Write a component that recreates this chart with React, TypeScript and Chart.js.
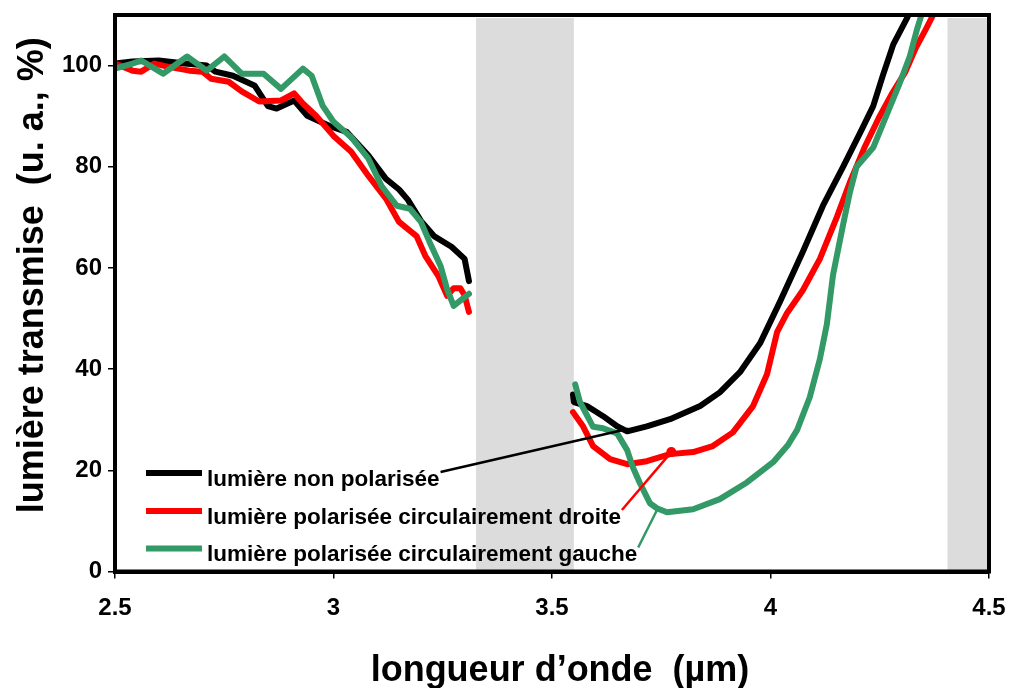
import React, { useEffect, useRef } from 'react';
import { Chart, registerables } from 'chart.js';

Chart.register(...registerables);

const FONT = "'Liberation Sans', Arial, Helvetica, sans-serif";

const X_TICKS = [2.5, 3, 3.5, 4, 4.5];
const X_TICK_LABELS = ['2.5', '3', '3.5', '4', '4.5'];
const Y_TICKS = [0, 20, 40, 60, 80, 100];
const X_TITLE = 'longueur d\u2019onde  (\u00b5m)';
const Y_TITLE = 'lumi\u00e8re transmise  (u. a., %)';

const SERIES_NAMES = [
  'lumi\u00e8re non polaris\u00e9e',
  'lumi\u00e8re polaris\u00e9e circulairement droite',
  'lumi\u00e8re polaris\u00e9e circulairement gauche',
];
const SERIES_COLORS = ['#000000', '#ff0000', '#339966'];

// non polarised — first window
const BLACK_X1 = [2.50, 2.54, 2.60, 2.66, 2.71, 2.73, 2.77, 2.82, 2.85, 2.87, 2.91, 2.94, 2.99, 3.03, 3.08, 3.12, 3.15, 3.17, 3.20, 3.23, 3.27, 3.30, 3.31];
const BLACK_Y1 = [100.4, 100.8, 101, 100.4, 100, 98.8, 98, 96, 92, 91.5, 93.1, 90.1, 88.1, 86.9, 82.2, 77.6, 75.5, 73.5, 69.3, 66.3, 64.2, 61.8, 57.4];
// non polarised — second window
const BLACK_X2 = [3.548, 3.55, 3.58, 3.617, 3.649, 3.672, 3.717, 3.77, 3.839, 3.884, 3.93, 3.976, 4.022, 4.074, 4.12, 4.166, 4.205, 4.235, 4.257, 4.281, 4.313, 4.331];
const BLACK_Y2 = [35.0, 33.5, 32.7, 30.7, 28.7, 27.7, 28.7, 30.1, 32.7, 35.4, 39.4, 45.1, 53.4, 63.2, 72.3, 80, 86.7, 92, 98, 104.2, 109.5, 113];

// circular right — first window
const RED_X1 = [2.50, 2.54, 2.56, 2.59, 2.62, 2.67, 2.70, 2.72, 2.76, 2.79, 2.83, 2.88, 2.91, 2.93, 2.96, 3.00, 3.04, 3.08, 3.12, 3.15, 3.19, 3.21, 3.24, 3.26, 3.275, 3.29, 3.30, 3.31];
const RED_Y1 = [100.4, 99, 98.8, 100.4, 99.8, 99, 98.8, 97.4, 96.8, 94.9, 92.9, 93.1, 94.5, 92.5, 90.1, 86.1, 83, 78.2, 73.7, 69.1, 66.3, 62.4, 58.4, 54.5, 56, 56, 54.6, 51.3];
// circular right — second window
const RED_X2 = [3.548, 3.571, 3.594, 3.633, 3.672, 3.717, 3.77, 3.823, 3.868, 3.914, 3.96, 3.992, 4.015, 4.038, 4.074, 4.113, 4.152, 4.181, 4.215, 4.248, 4.277, 4.309, 4.332, 4.355, 4.378];
const RED_Y2 = [31.5, 28.7, 24.8, 22.2, 21.2, 21.8, 23.2, 23.6, 24.8, 27.5, 32.7, 39, 47.3, 51.1, 55.6, 61.8, 70.1, 76.8, 83.8, 89.7, 94.3, 98.8, 103.4, 107.1, 111];

// circular left — first window
const GREEN_X1 = [2.50, 2.54, 2.56, 2.61, 2.665, 2.71, 2.75, 2.79, 2.84, 2.88, 2.93, 2.95, 2.975, 3.00, 3.04, 3.08, 3.11, 3.145, 3.175, 3.20, 3.22, 3.245, 3.26, 3.275, 3.295, 3.31];
const GREEN_Y1 = [99.4, 100.4, 101, 98.4, 101.8, 99, 101.8, 98.4, 98.4, 95.4, 99.4, 98, 92.1, 88.9, 85.9, 81.6, 76.2, 72.3, 71.7, 69.1, 65.1, 60.4, 55.8, 52.5, 53.9, 54.9];
// circular left — second window
const GREEN_X2 = [3.553, 3.564, 3.594, 3.617, 3.649, 3.672, 3.685, 3.701, 3.724, 3.74, 3.763, 3.823, 3.884, 3.946, 4.006, 4.04, 4.061, 4.09, 4.113, 4.129, 4.143, 4.166, 4.181, 4.197, 4.235, 4.267, 4.296, 4.319, 4.335, 4.349];
const GREEN_Y2 = [37.0, 33.5, 28.6, 28.3, 27.3, 24, 20.6, 17.5, 13.5, 12.5, 11.7, 12.3, 14.3, 17.6, 21.6, 25, 28, 34.5, 42, 48.9, 58.6, 68.5, 74.7, 80, 83.8, 90.5, 96.6, 101.9, 107.1, 111];

const GAP_X = 3.43;

// shaded absorption windows (µm)
const BAND_STARTS = [3.326, 4.405];
const BAND_ENDS = [3.55, 4.5];

// where each legend leader line points on its curve (µm, %)
const LEADER_X = [3.675, 3.773, 3.74];
const LEADER_Y = [28.2, 23.6, 12.1];

function toPoints(xs: number[], ys: number[]) {
  return xs.map((x, i) => ({ x, y: ys[i] }));
}

function buildSeries(x1: number[], y1: number[], x2: number[], y2: number[]) {
  return [...toPoints(x1, y1), { x: GAP_X, y: null }, ...toPoints(x2, y2)];
}

const bandsPlugin = {
  id: 'bands',
  beforeDraw(chart: any) {
    const { ctx, chartArea, scales } = chart;
    ctx.save();
    ctx.fillStyle = '#dcdcdc';
    BAND_STARTS.forEach((s, i) => {
      const x0 = scales.x.getPixelForValue(s);
      const x1 = scales.x.getPixelForValue(BAND_ENDS[i]);
      ctx.fillRect(x0, chartArea.top + 3, x1 - x0, chartArea.bottom - chartArea.top - 3);
    });
    ctx.restore();
  },
};

const decorPlugin = {
  id: 'decor',
  afterDatasetsDraw(chart: any) {
    const { ctx, chartArea, scales } = chart;
    ctx.save();
    // frame
    ctx.strokeStyle = '#000';
    ctx.lineWidth = 4;
    ctx.strokeRect(chartArea.left, chartArea.top, chartArea.right - chartArea.left, chartArea.bottom - chartArea.top);

    // legend
    const rowOffsets = [-98.5, -60.5, -23];
    ctx.font = `bold 22.5px ${FONT}`;
    ctx.textAlign = 'left';
    ctx.textBaseline = 'alphabetic';
    SERIES_NAMES.forEach((name, i) => {
      const ry = chartArea.bottom + rowOffsets[i];
      const lx0 = chartArea.left + 31;
      const lx1 = chartArea.left + 87;
      const tx = chartArea.left + 92;
      ctx.strokeStyle = SERIES_COLORS[i];
      ctx.lineWidth = 6;
      ctx.lineCap = 'butt';
      ctx.beginPath();
      ctx.moveTo(lx0, ry);
      ctx.lineTo(lx1, ry);
      ctx.stroke();
      ctx.fillStyle = '#000';
      ctx.fillText(name, tx, ry + 12.5);
      const tw = ctx.measureText(name).width;
      // leader line
      const ex = scales.x.getPixelForValue(LEADER_X[i]);
      const ey = scales.y.getPixelForValue(LEADER_Y[i]);
      ctx.strokeStyle = SERIES_COLORS[i];
      ctx.lineWidth = 2.5;
      ctx.beginPath();
      ctx.moveTo(tx + tw + 1, ry - 1);
      ctx.lineTo(ex, ey);
      ctx.stroke();
      if (i === 1) {
        ctx.fillStyle = SERIES_COLORS[i];
        ctx.beginPath();
        ctx.arc(ex, ey, 5, 0, Math.PI * 2);
        ctx.fill();
      }
    });

    // axis titles
    ctx.fillStyle = '#000';
    ctx.font = `bold 36px ${FONT}`;
    ctx.textAlign = 'center';
    ctx.textBaseline = 'alphabetic';
    ctx.fillText(X_TITLE, (chartArea.left + chartArea.right) / 2 + 8, chartArea.bottom + 109);
    ctx.save();
    ctx.translate(chartArea.left - 72, (chartArea.top + chartArea.bottom) / 2 - 18);
    ctx.rotate(-Math.PI / 2);
    ctx.fillText(Y_TITLE, 0, 0);
    ctx.restore();
    ctx.restore();
  },
};

const tickFont = { family: FONT, size: 24, weight: 'bold' as const };

export default function App() {
  const ref = useRef<HTMLCanvasElement>(null);
  useEffect(() => {
    if (!ref.current) return;
    const datasets = [
      { label: SERIES_NAMES[0], data: buildSeries(BLACK_X1, BLACK_Y1, BLACK_X2, BLACK_Y2), borderColor: SERIES_COLORS[0], order: 2 },
      { label: SERIES_NAMES[1], data: buildSeries(RED_X1, RED_Y1, RED_X2, RED_Y2), borderColor: SERIES_COLORS[1], order: 1 },
      { label: SERIES_NAMES[2], data: buildSeries(GREEN_X1, GREEN_Y1, GREEN_X2, GREEN_Y2), borderColor: SERIES_COLORS[2], order: 0 },
    ].map((d) => ({ ...d, borderWidth: 6, pointRadius: 0, fill: false, tension: 0, spanGaps: false, borderJoinStyle: 'round' as const, borderCapStyle: 'round' as const }));

    const chart = new Chart(ref.current, {
      type: 'line',
      data: { datasets: datasets as any },
      options: {
        animation: false,
        responsive: false,
        layout: { padding: { left: 0, right: 22, top: 15, bottom: 0 } },
        plugins: { legend: { display: false }, tooltip: { enabled: false } },
        scales: {
          x: {
            type: 'linear',
            min: 2.5,
            max: 4.5,
            afterBuildTicks: (s: any) => { s.ticks = X_TICKS.map((v) => ({ value: v })); },
            afterFit: (s: any) => { s.height = 116.5; s.paddingLeft = 0; s.paddingRight = 0; },
            ticks: {
              autoSkip: false,
              maxRotation: 0,
              padding: 15,
              color: '#000',
              font: tickFont,
              callback: (_v: any, i: number) => X_TICK_LABELS[i],
            },
            grid: { drawOnChartArea: false, drawTicks: true, tickLength: 7, color: '#000', lineWidth: 1.5 },
            border: { display: true, color: '#000', width: 4 },
          },
          y: {
            type: 'linear',
            min: 0,
            max: 110,
            afterBuildTicks: (s: any) => { s.ticks = Y_TICKS.map((v) => ({ value: v })); },
            afterFit: (s: any) => { s.width = 115; s.paddingTop = 0; s.paddingBottom = 0; },
            ticks: {
              padding: 6,
              color: '#000',
              font: tickFont,
              callback: (v: any) => String(v),
            },
            grid: { drawOnChartArea: false, drawTicks: true, tickLength: 7, color: '#000', lineWidth: 1.5 },
            border: { display: true, color: '#000', width: 4 },
          },
        },
      },
      plugins: [bandsPlugin, decorPlugin],
    });
    return () => chart.destroy();
  }, []);

  return (
    <div style={{ position: 'fixed', left: 0, top: 0, width: 1011, height: 688, background: '#fff' }}>
      <canvas ref={ref} width={1011} height={688} style={{ display: 'block' }} />
    </div>
  );
}
